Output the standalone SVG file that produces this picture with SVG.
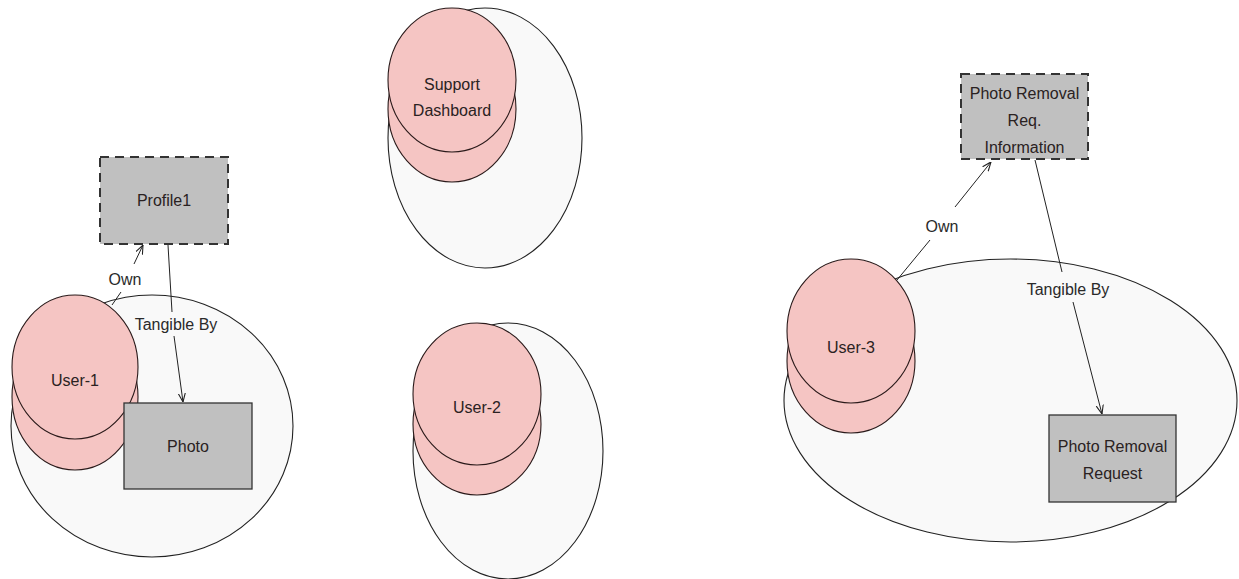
<svg xmlns="http://www.w3.org/2000/svg" width="1239" height="579" viewBox="0 0 1239 579">
<style>
.bg{fill:#ffffff}
.cont{fill:#f9f9f9;stroke:#222;stroke-width:1.1}
.user{fill:#f5c5c3;stroke:#2a1a1a;stroke-width:1.1}
.box{fill:#c0c0c0;stroke:#333;stroke-width:1.3}
.dash{fill:#c0c0c0;stroke:#333;stroke-width:2;stroke-dasharray:9 6}
.t{font-family:"Liberation Sans",Arial,sans-serif;font-size:16px;fill:#2a2222;text-anchor:middle}
.lbl{font-family:"Liberation Sans",Arial,sans-serif;font-size:16px;fill:#2a2a2a;text-anchor:middle}
.edge{fill:none;stroke:#222;stroke-width:1}
</style>
<defs>
<marker id="arr" viewBox="0 0 10 10" refX="10" refY="5" markerWidth="9" markerHeight="9" markerUnits="userSpaceOnUse" orient="auto">
<path d="M0,1 L10,5 L0,9" fill="none" stroke="#222" stroke-width="1.2"/>
</marker>
</defs>
<rect class="bg" x="0" y="0" width="1239" height="579"/>

<g id="node-user1">
<ellipse class="cont" cx="152" cy="426" rx="141" ry="131"/>
<ellipse class="user" cx="75" cy="397" rx="63" ry="73"/>
<ellipse class="user" cx="75" cy="367" rx="63" ry="72"/>
<text class="t" x="75" y="386">User-1</text>
</g>

<g id="node-profile1">
<rect class="dash" x="100" y="157" width="128" height="87"/>
<text class="t" x="164" y="206">Profile1</text>
</g>

<g id="node-photo">
<rect class="box" x="124" y="403" width="128" height="86"/>
<text class="t" x="188" y="452">Photo</text>
</g>

<g id="node-support">
<ellipse class="cont" cx="485" cy="138" rx="97" ry="130"/>
<ellipse class="user" cx="452" cy="109" rx="64" ry="73"/>
<ellipse class="user" cx="452" cy="80" rx="64" ry="72"/>
<text class="t" x="452" y="90">Support</text>
<text class="t" x="452" y="116">Dashboard</text>
</g>

<g id="node-user2">
<ellipse class="cont" cx="508" cy="451" rx="95" ry="128"/>
<ellipse class="user" cx="477" cy="424" rx="64" ry="71"/>
<ellipse class="user" cx="477" cy="394" rx="64" ry="71"/>
<text class="t" x="477" y="413">User-2</text>
</g>

<g id="node-user3">
<ellipse class="cont" cx="1010.5" cy="400.5" rx="226.5" ry="141.5"/>
<ellipse class="user" cx="851" cy="361" rx="64" ry="72"/>
<ellipse class="user" cx="851" cy="331" rx="64" ry="72"/>
<text class="t" x="851" y="353">User-3</text>
</g>

<g id="node-prinfo">
<rect class="dash" x="961" y="74" width="127" height="85"/>
<text class="t" x="1024.5" y="99">Photo Removal</text>
<text class="t" x="1024.5" y="126">Req.</text>
<text class="t" x="1024.5" y="153">Information</text>
</g>

<g id="node-prrequest">
<rect class="box" x="1049" y="415" width="127" height="87"/>
<text class="t" x="1112.5" y="452">Photo Removal</text>
<text class="t" x="1112.5" y="479">Request</text>
</g>

<g id="connectors">
<line class="edge" x1="112" y1="305" x2="121" y2="292"/>
<line class="edge" x1="134" y1="264" x2="143" y2="245" marker-end="url(#arr)"/>
<text class="lbl" x="125" y="285">Own</text>

<line class="edge" x1="168" y1="245" x2="172" y2="312"/>
<line class="edge" x1="174" y1="336" x2="183" y2="402" marker-end="url(#arr)"/>
<text class="lbl" x="176" y="330">Tangible By</text>

<line class="edge" x1="897" y1="280" x2="930" y2="240"/>
<line class="edge" x1="955" y1="207" x2="991" y2="162" marker-end="url(#arr)"/>
<text class="lbl" x="942" y="232">Own</text>

<line class="edge" x1="1035" y1="160" x2="1062" y2="272"/>
<line class="edge" x1="1073" y1="302" x2="1102" y2="414" marker-end="url(#arr)"/>
<text class="lbl" x="1068" y="295">Tangible By</text>
</g>
</svg>
